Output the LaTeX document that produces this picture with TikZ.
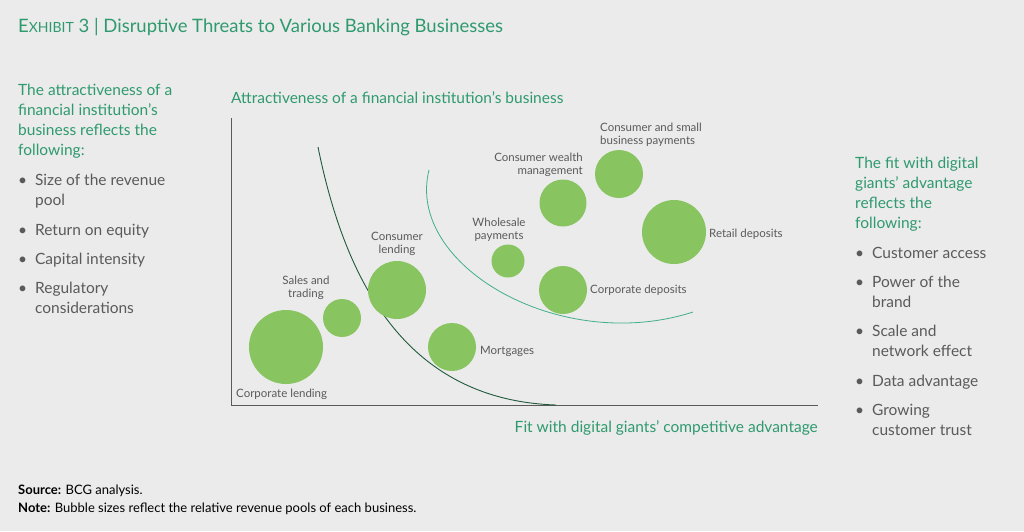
\documentclass[tikz,border=0pt]{standalone}
\usepackage{fontspec}
\setmainfont{Lato}
\definecolor{bg}{HTML}{EBEBEB}
\definecolor{tgreen}{HTML}{2E9A6E}
\definecolor{dgreen}{HTML}{1F5A3C}
\definecolor{lgreen}{HTML}{3FAF8A}
\definecolor{bub}{HTML}{88C45F}
\definecolor{txt}{HTML}{5A5A5A}
\begin{document}
\begin{tikzpicture}[x=1pt,y=-1pt,
  lab/.style={text=txt,font=\fontsize{11.5}{13}\selectfont,align=center,inner sep=0},
  side/.style={text=tgreen,font=\fontsize{15.5}{20}\selectfont,align=left,anchor=north west,inner sep=0},
  item/.style={text=txt,font=\fontsize{15.5}{20}\selectfont,align=left,anchor=north west,inner sep=0},
  bubble/.style={circle,fill=bub,inner sep=0}]
\fill[bg] (0,0) rectangle (1024,531);
\useasboundingbox (0,0) rectangle (1024,531);
\node[anchor=west,text=tgreen,font=\fontsize{18.5}{20}\selectfont,inner sep=0] (title) at (18,27) {E{\fontsize{14}{15}\selectfont XHIBIT} 3 | Disruptive Threats to Various Banking Businesses};
% left text
\node[side] (lt) at (18,84) {The attractiveness of a\\financial institution’s\\business reflects the\\following:};
\node[item] (l1) at (18,174) {\textbullet\ \ Size of the revenue\\\phantom{\textbullet\ \ }pool};
\node[item] (l2) at (18,224) {\textbullet\ \ Return on equity};
\node[item] (l3) at (18,253) {\textbullet\ \ Capital intensity};
\node[item] (l4) at (18,282) {\textbullet\ \ Regulatory\\\phantom{\textbullet\ \ }considerations};
% right text
\node[side] (rt) at (855,157) {The fit with digital\\giants’ advantage\\reflects the\\following:};
\node[item] (r1) at (855,247) {\textbullet\ \ Customer access};
\node[item] (r2) at (855,276) {\textbullet\ \ Power of the\\\phantom{\textbullet\ \ }brand};
\node[item] (r3) at (855,325) {\textbullet\ \ Scale and\\\phantom{\textbullet\ \ }network effect};
\node[item] (r4) at (855,375) {\textbullet\ \ Data advantage};
\node[item] (r5) at (855,404) {\textbullet\ \ Growing\\\phantom{\textbullet\ \ }customer trust};
% axes
\coordinate (ytop) at (231,118);
\coordinate (o) at (231,405);
\coordinate (xend) at (818,405);
\draw[txt,line width=0.8pt] (ytop) -- (o) -- (xend);
\node[anchor=west,text=tgreen,font=\fontsize{15.5}{17}\selectfont,inner sep=0] (ya) at (231,98) {Attractiveness of a financial institution’s business};
\node[anchor=east,text=tgreen,font=\fontsize{15.5}{17}\selectfont,inner sep=0] (xa) at (818,428) {Fit with digital giants’ competitive advantage};
% curves
\coordinate (d1) at (318,147); \coordinate (d2) at (556,405);
\draw[dgreen,line width=0.9pt] (d1) .. controls (345,280) and (405,400) .. (d2);
\coordinate (g1) at (429,170); \coordinate (g2) at (693,312);
\draw[lgreen,line width=0.8pt] (g1) .. controls (405,265) and (560,355) .. (g2);
% bubbles
\node[bubble,minimum size=74] (cl) at (286,347) {};
\node[bubble,minimum size=38] (st) at (342,318) {};
\node[bubble,minimum size=58] (cn) at (397,290) {};
\node[bubble,minimum size=48] (mo) at (452,347) {};
\node[bubble,minimum size=33] (wp) at (508,261) {};
\node[bubble,minimum size=47] (cw) at (563,203) {};
\node[bubble,minimum size=48] (cd) at (563,290) {};
\node[bubble,minimum size=48] (cp) at (619,174) {};
\node[bubble,minimum size=64] (rd) at (674,232) {};
% labels
\node[lab,anchor=west] at (236,394) {Corporate lending};
\node[lab] at (306,288) {Sales and\\trading};
\node[lab] at (397,244) {Consumer\\lending};
\node[lab,anchor=west] at (480,351) {Mortgages};
\node[lab] at (499,230) {Wholesale\\payments};
\node[lab,align=right,anchor=east] at (583,165) {Consumer wealth\\management};
\node[lab,anchor=west] at (590,290) {Corporate deposits};
\node[lab,align=left,anchor=west] at (600,135) {Consumer and small\\business payments};
\node[lab,anchor=west] at (709,234) {Retail deposits};
% notes
\node[anchor=west,text=black,font=\fontsize{13}{14}\selectfont,inner sep=0] (src) at (18,491) {\textbf{Source:} BCG analysis.};
\node[anchor=west,text=black,font=\fontsize{13}{14}\selectfont,inner sep=0] (note) at (18,509) {\textbf{Note:} Bubble sizes reflect the relative revenue pools of each business.};
\end{tikzpicture}
\end{document}
